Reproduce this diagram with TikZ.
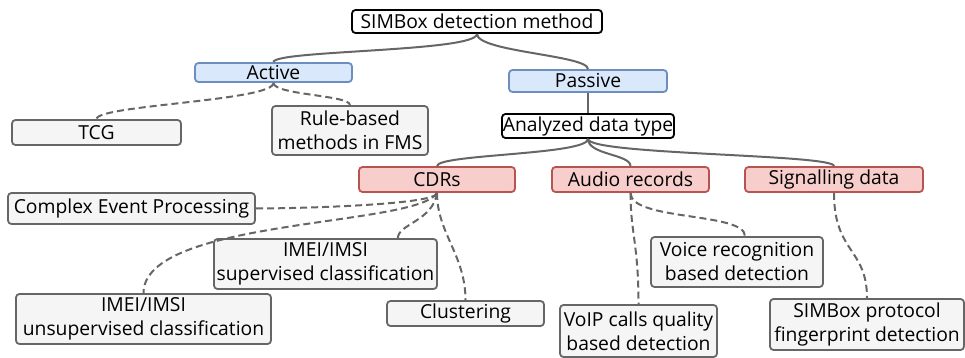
\documentclass[tikz,border=0pt]{standalone}
\usepackage{fontspec}
\setmainfont{Open Sans}
\usepackage{xcolor}
\definecolor{bluefill}{HTML}{DAE8FC}
\definecolor{blueline}{HTML}{6C8EBF}
\definecolor{redfill}{HTML}{F8CECC}
\definecolor{redline}{HTML}{B85450}
\definecolor{grayfill}{HTML}{F5F5F5}
\definecolor{grayline}{HTML}{666666}

\begin{document}
\begin{tikzpicture}[x=1pt,y=-1pt,
  box/.style={draw,rounded corners=3.5pt,line width=1.8pt,inner sep=0pt,
    align=center,font=\fontsize{19.3}{24}\selectfont},
  rootbox/.style={box,draw=black,fill=white},
  kindbox/.style={box,draw=blueline,fill=bluefill},
  databox/.style={box,draw=redline,fill=redfill},
  leafbox/.style={box,draw=grayline,fill=grayfill},
  link/.style={draw=grayline,line width=2pt},
  dlink/.style={link,dash pattern=on 7pt off 4pt}]
  \useasboundingbox (0,0) rectangle (965,358);
% Top levels
  \node[rootbox,minimum width=250pt,minimum height=23pt] (root) at (477,21.5) {SIMBox detection method};
  \node[kindbox,minimum width=157pt,minimum height=19pt] (act) at (273.5,72.5) {Active};
  \node[kindbox,minimum width=158pt,minimum height=22pt] (pas) at (588,81) {Passive};
  \node[rootbox,minimum width=172pt,minimum height=24pt] (adt) at (588,126) {Analyzed data type};
% Active methods
  \node[leafbox,minimum width=169pt,minimum height=25pt] (tcg) at (96.5,132.5) {TCG};
  \node[leafbox,minimum width=156pt,minimum height=49pt] (fms) at (350,130.5) {Rule-based\\methods in FMS};
% Data types
  \node[databox,minimum width=156pt,minimum height=25pt] (cdr) at (437,179.5) {CDRs};
  \node[databox,minimum width=157pt,minimum height=25pt] (aud) at (630.5,179.5) {Audio records};
  \node[databox,minimum width=178pt,minimum height=25pt] (sig) at (834,179.5) {Signalling data};
% Passive methods
  \node[leafbox,minimum width=247pt,minimum height=31pt] (cep) at (131.5,208.5) {Complex Event Processing};
  \node[leafbox,minimum width=223pt,minimum height=50pt] (sup) at (325.5,264) {IMEI/IMSI\\supervised classification};
  \node[leafbox,minimum width=255pt,minimum height=50pt] (uns) at (143.5,319) {IMEI/IMSI\\unsupervised classification};
  \node[leafbox,minimum width=157pt,minimum height=25pt] (clu) at (465.5,313.5) {Clustering};
  \node[leafbox,minimum width=172pt,minimum height=50pt] (voi) at (737,262) {Voice recognition\\based detection};
  \node[leafbox,minimum width=157pt,minimum height=52pt] (voip) at (638.5,331) {VoIP calls quality\\based detection};
  \node[leafbox,minimum width=194pt,minimum height=51pt] (fpd) at (867,324.5) {SIMBox protocol\\fingerprint detection};
% Solid links
  \draw[link] (root.south) .. controls +(0,18) and +(0,-12) .. (act.north);
  \draw[link] (root.south) .. controls +(0,18) and +(0,-14) .. (pas.north);
  \draw[link] (pas.south) -- (adt.north);
  \draw[link] (adt.south) .. controls +(0,16) and +(0,-12) .. (cdr.north);
  \draw[link] (adt.south) .. controls +(0,16) and +(0,-12) .. (aud.north);
  \draw[link] (adt.south) .. controls +(0,16) and +(0,-12) .. (sig.north);
% Dashed links
  \draw[dlink] (act.south) .. controls +(0,18) and +(0,-14) .. (tcg.north);
  \draw[dlink] (act.south) .. controls +(0,12) and +(0,-10) .. (fms.north);
  \draw[dlink] (cdr.south) .. controls +(0,12) and +(40,0) .. (cep.east);
  \draw[dlink] (cdr.south) .. controls +(-4,28) and +(0,-14) .. ([xshift=-40pt]sup.north east);
  \draw[dlink] (cdr.south) .. controls +(-20,34) and +(0,-75) .. (uns.north);
  \draw[dlink] (cdr.south) .. controls +(0,40) and +(0,-45) .. (clu.north);
  \draw[dlink] (aud.south) .. controls +(0,40) and +(0,-60) .. (voip.north);
  \draw[dlink] (aud.south) .. controls +(0,28) and +(0,-24) .. ([xshift=8pt]voi.north);
  \draw[dlink] (sig.south) .. controls +(0,60) and +(0,-50) .. (fpd.north);
\end{tikzpicture}
\end{document}
